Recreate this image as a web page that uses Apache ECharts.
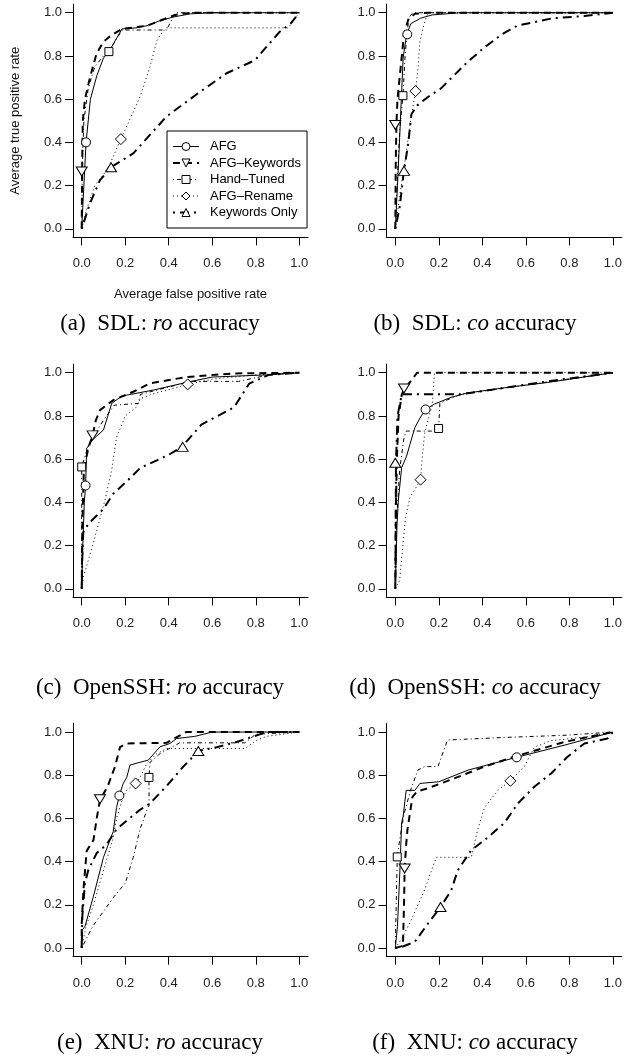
<!DOCTYPE html>
<html>
<head>
<meta charset="utf-8">
<title>ROC curves</title>
<script src="https://cdn.jsdelivr.net/npm/echarts@6/dist/echarts.min.js"></script>
<style>
  html, body { margin: 0; padding: 0; background: #fff; }
  #chart { width: 636px; height: 1057px; }
</style>
</head>
<body>
<div id="chart"></div>
<script>
// axis ticks (both axes)
var ticks = [0, 0.2, 0.4, 0.6, 0.8, 1.0];
var seriesNames = ['AFG', 'AFG\u2013Keywords', 'Hand\u2013Tuned', 'AFG\u2013Rename', 'Keywords Only'];

// (a) SDL ro
var sdlRoAfg = [[0,0],[0.005,0.1],[0.015,0.3],[0.02,0.4],[0.04,0.6],[0.07,0.71],[0.1,0.79],[0.125,0.82],[0.185,0.925],[0.25,0.93],[0.3,0.94],[0.35,0.96],[0.42,0.98],[0.5,0.995],[0.6,1],[1,1]];
var sdlRoKw = [[0,0],[0.002,0.27],[0.005,0.5],[0.015,0.6],[0.038,0.7],[0.068,0.81],[0.1,0.866],[0.138,0.897],[0.185,0.925],[0.3,0.94],[0.43,0.99],[0.5,1],[1,1]];
var sdlRoHand = [[0,0],[0.003,0.3],[0.01,0.5],[0.03,0.65],[0.06,0.75],[0.1,0.8],[0.125,0.82],[0.185,0.92],[0.39,0.92],[0.43,1],[1,1]];
var sdlRoRename = [[0,0],[0.02,0.08],[0.06,0.2],[0.1,0.25],[0.13,0.3],[0.18,0.415],[0.214,0.49],[0.268,0.61],[0.314,0.75],[0.345,0.87],[0.37,0.91],[0.39,0.93],[0.95,0.93],[1,1]];
var sdlRoKwOnly = [[0,0],[0.038,0.117],[0.084,0.225],[0.135,0.285],[0.237,0.349],[0.39,0.52],[0.544,0.634],[0.666,0.72],[0.796,0.78],[0.85,0.843],[0.91,0.912],[0.96,0.95],[1,1]];
var sdlRoMarks = [[0.02,0.4],[0.0,0.265],[0.125,0.82],[0.18,0.415],[0.135,0.285]];

// (b) SDL co
var sdlCoAfg = [[0,0],[0.01,0.2],[0.02,0.42],[0.028,0.61],[0.036,0.79],[0.052,0.9],[0.072,0.95],[0.117,0.975],[0.17,0.99],[0.3,1],[1,1]];
var sdlCoKw = [[0,0],[0.002,0.3],[0.005,0.48],[0.01,0.6],[0.02,0.7],[0.03,0.8],[0.04,0.9],[0.06,0.97],[0.09,0.995],[0.15,1],[1,1]];
var sdlCoHand = [[0,0],[0.008,0.2],[0.02,0.45],[0.035,0.616],[0.045,0.8],[0.055,0.92],[0.065,0.98],[0.08,1],[1,1]];
var sdlCoRename = [[0,0],[0.02,0.15],[0.05,0.35],[0.07,0.5],[0.081,0.565],[0.093,0.637],[0.105,0.75],[0.113,0.87],[0.13,0.94],[0.15,1],[1,1]];
var sdlCoKwOnly = [[0,0],[0.02,0.1],[0.04,0.27],[0.059,0.39],[0.074,0.53],[0.1,0.57],[0.15,0.61],[0.21,0.65],[0.26,0.7],[0.33,0.77],[0.41,0.84],[0.49,0.9],[0.56,0.94],[0.72,0.974],[0.87,0.985],[1,1]];
var sdlCoMarks = [[0.055,0.9],[0.0,0.48],[0.035,0.616],[0.093,0.637],[0.04,0.268]];

// (c) OpenSSH ro
var sshRoAfg = [[0,0],[0.005,0.2],[0.012,0.4],[0.018,0.48],[0.023,0.65],[0.05,0.69],[0.1,0.735],[0.138,0.858],[0.184,0.892],[0.33,0.92],[0.48,0.955],[0.6,0.98],[0.85,0.99],[1,1]];
var sshRoKw = [[0,0],[0.003,0.3],[0.01,0.55],[0.03,0.65],[0.05,0.71],[0.065,0.78],[0.084,0.827],[0.145,0.873],[0.237,0.912],[0.314,0.951],[0.48,0.98],[0.7,0.997],[1,1]];
var sshRoHand = [[0,0],[0,0.564],[0.02,0.63],[0.05,0.7],[0.1,0.78],[0.15,0.85],[0.26,0.858],[0.27,0.9],[0.5,0.96],[0.72,0.96],[0.86,0.99],[1,1]];
var sshRoRename = [[0,0],[0.008,0.054],[0.061,0.24],[0.107,0.41],[0.138,0.55],[0.16,0.7],[0.2,0.8],[0.25,0.84],[0.27,0.88],[0.32,0.9],[0.487,0.946],[0.6,0.97],[0.8,0.99],[1,1]];
var sshRoKwOnly = [[0,0],[0.003,0.15],[0.007,0.26],[0.03,0.3],[0.1,0.37],[0.145,0.44],[0.21,0.5],[0.27,0.56],[0.4,0.62],[0.46,0.657],[0.55,0.76],[0.7,0.84],[0.77,0.95],[0.86,0.99],[1,1]];
var sshRoMarks = [[0.018,0.478],[0.05,0.71],[0,0.564],[0.487,0.946],[0.464,0.657]];

// (d) OpenSSH co
var sshCoAfg = [[0,0],[0.008,0.3],[0.014,0.41],[0.029,0.56],[0.052,0.614],[0.067,0.668],[0.09,0.746],[0.113,0.79],[0.139,0.83],[0.18,0.855],[0.256,0.886],[0.33,0.906],[0.5,0.93],[0.7,0.955],[1,1]];
var sshCoKw = [[0,0],[0.003,0.4],[0.008,0.62],[0.015,0.8],[0.03,0.9],[0.04,0.92],[0.1,1],[1,1]];
var sshCoHand = [[0,0],[0.005,0.3],[0.02,0.55],[0.04,0.7],[0.05,0.73],[0.18,0.73],[0.199,0.742],[0.205,0.86],[0.3,0.9],[1,1]];
var sshCoRename = [[0,0],[0.02,0.04],[0.03,0.15],[0.046,0.32],[0.066,0.42],[0.096,0.47],[0.116,0.505],[0.124,0.61],[0.135,0.72],[0.15,0.78],[0.17,0.85],[0.18,1],[1,1]];
var sshCoKwOnly = [[0,0],[0.002,0.3],[0.003,0.58],[0.01,0.8],[0.03,0.9],[0.3,0.9],[0.5,0.93],[0.7,0.96],[1,1]];
var sshCoMarks = [[0.139,0.83],[0.04,0.927],[0.199,0.742],[0.116,0.505],[0,0.583]];

// (e) XNU ro
var xnuRoAfg = [[0,0],[0,0.08],[0.015,0.1],[0.054,0.24],[0.1,0.42],[0.145,0.54],[0.16,0.65],[0.173,0.706],[0.19,0.76],[0.207,0.79],[0.222,0.847],[0.268,0.86],[0.306,0.87],[0.36,0.932],[0.406,0.947],[0.436,0.97],[0.52,0.98],[0.6,1],[1,1]];
var xnuRoKw = [[0,0],[0,0.11],[0.008,0.27],[0.023,0.45],[0.054,0.5],[0.069,0.6],[0.084,0.685],[0.12,0.75],[0.153,0.84],[0.176,0.93],[0.207,0.947],[0.39,0.95],[0.48,1],[1,1]];
var xnuRoHand = [[0,0],[0.05,0.1],[0.1,0.17],[0.15,0.24],[0.2,0.3],[0.237,0.42],[0.268,0.55],[0.3,0.64],[0.31,0.66],[0.309,0.79],[0.314,0.86],[0.36,0.9],[0.45,0.95],[0.75,0.95],[0.8,0.99],[1,1]];
var xnuRoRename = [[0,0],[0.02,0.1],[0.054,0.2],[0.1,0.36],[0.145,0.51],[0.16,0.6],[0.19,0.7],[0.207,0.73],[0.248,0.762],[0.268,0.79],[0.3,0.855],[0.345,0.9],[0.39,0.924],[0.75,0.924],[0.8,0.96],[0.85,0.98],[1,1]];
var xnuRoKwOnly = [[0,0],[0.003,0.15],[0.015,0.3],[0.03,0.36],[0.069,0.44],[0.115,0.48],[0.16,0.55],[0.207,0.59],[0.268,0.64],[0.314,0.67],[0.39,0.75],[0.467,0.84],[0.536,0.912],[0.62,0.93],[0.7,0.95],[0.79,0.98],[0.85,1],[1,1]];
var xnuRoMarks = [[0.173,0.706],[0.084,0.689],[0.309,0.79],[0.248,0.762],[0.536,0.912]];

// (f) XNU co
var xnuCoAfg = [[0,0],[0.01,0.1],[0.022,0.38],[0.029,0.58],[0.036,0.61],[0.05,0.73],[0.09,0.73],[0.113,0.762],[0.2,0.77],[0.335,0.824],[0.557,0.883],[0.78,0.94],[1,1]];
var xnuCoKw = [[0,0],[0.035,0.01],[0.04,0.2],[0.043,0.37],[0.05,0.48],[0.056,0.55],[0.079,0.7],[0.1,0.725],[0.15,0.74],[0.257,0.78],[0.41,0.84],[0.56,0.89],[0.78,0.955],[1,1]];
var xnuCoHand = [[0,0],[0.004,0.2],[0.009,0.42],[0.02,0.5],[0.04,0.62],[0.07,0.73],[0.104,0.824],[0.135,0.84],[0.196,0.84],[0.24,0.963],[0.5,0.975],[0.78,0.985],[1,1]];
var xnuCoRename = [[0,0],[0.028,0.04],[0.073,0.13],[0.135,0.27],[0.188,0.42],[0.349,0.42],[0.379,0.55],[0.41,0.65],[0.471,0.73],[0.529,0.774],[0.593,0.84],[0.639,0.93],[0.716,0.96],[0.9,0.98],[1,1]];
var xnuCoKwOnly = [[0,0],[0.028,0.005],[0.089,0.028],[0.15,0.113],[0.208,0.19],[0.257,0.267],[0.287,0.36],[0.349,0.453],[0.41,0.5],[0.5,0.577],[0.563,0.669],[0.639,0.747],[0.716,0.808],[0.792,0.886],[0.869,0.947],[0.975,0.97],[1,1]];
var xnuCoMarks = [[0.558,0.883],[0.043,0.368],[0.009,0.422],[0.529,0.774],[0.208,0.19]];

var panels = [
  { tag: '(a)', sys: 'SDL', kind: 'ro', lines: [sdlRoAfg, sdlRoKw, sdlRoHand, sdlRoRename, sdlRoKwOnly], marks: sdlRoMarks },
  { tag: '(b)', sys: 'SDL', kind: 'co', lines: [sdlCoAfg, sdlCoKw, sdlCoHand, sdlCoRename, sdlCoKwOnly], marks: sdlCoMarks },
  { tag: '(c)', sys: 'OpenSSH', kind: 'ro', lines: [sshRoAfg, sshRoKw, sshRoHand, sshRoRename, sshRoKwOnly], marks: sshRoMarks },
  { tag: '(d)', sys: 'OpenSSH', kind: 'co', lines: [sshCoAfg, sshCoKw, sshCoHand, sshCoRename, sshCoKwOnly], marks: sshCoMarks },
  { tag: '(e)', sys: 'XNU', kind: 'ro', lines: [xnuRoAfg, xnuRoKw, xnuRoHand, xnuRoRename, xnuRoKwOnly], marks: xnuRoMarks },
  { tag: '(f)', sys: 'XNU', kind: 'co', lines: [xnuCoAfg, xnuCoKw, xnuCoHand, xnuCoRename, xnuCoKwOnly], marks: xnuCoMarks }
];

// look of each method (R style: lty 1, 2, 4, 3, 4 thick)
var looks = [
  { symbol: 'circle', size: 9, rotate: 0, width: 1, type: 'solid' },
  { symbol: 'triangle', size: [11, 9], rotate: 180, width: 2, type: [7, 5] },
  { symbol: 'rect', size: 8, rotate: 0, width: 1, type: [1, 3, 4, 3] },
  { symbol: 'diamond', size: 11, rotate: 0, width: 1, type: [1, 3] },
  { symbol: 'triangle', size: [11, 9], rotate: 0, width: 2, type: [2, 5, 9, 5] }
];

var font = 'Liberation Sans, Arial, sans-serif';
var serif = 'Liberation Serif, Times New Roman, serif';
var colX = [73, 386.6];        // grid left of each column
var rowY = [4.1, 364.1, 723.4]; // grid top of each row
var gridW = 235, gridH = 233.3;
var capX = [160, 475];
var capY = [324, 688, 1043];

var grids = [], xAxes = [], yAxes = [], series = [], graphics = [];

panels.forEach(function (p, i) {
  var col = i % 2, row = Math.floor(i / 2);
  grids.push({ left: colX[col], top: rowY[row], width: gridW, height: gridH });
  var axisCommon = {
    gridIndex: i, type: 'value', min: -0.04, max: 1.04,
    axisLine: { show: true, onZero: false, lineStyle: { color: '#000', width: 1 } },
    axisTick: { show: true, length: 8, customValues: ticks, lineStyle: { color: '#000', width: 1 } },
    splitLine: { show: false },
    nameTextStyle: { fontSize: 13, fontFamily: font, color: '#111' }
  };
  xAxes.push(Object.assign({}, axisCommon, {
    axisLabel: { customValues: ticks, formatter: function (v) { return v.toFixed(1); }, margin: 20, fontSize: 13, fontFamily: font, color: '#222' },
    name: i === 0 ? 'Average false positive rate' : '',
    nameLocation: 'middle', nameGap: 51
  }));
  yAxes.push(Object.assign({}, axisCommon, {
    axisLabel: { customValues: ticks, formatter: function (v) { return v.toFixed(1); }, margin: 11, fontSize: 13, fontFamily: font, color: '#222' },
    name: i === 0 ? 'Average true positive rate' : '',
    nameLocation: 'middle', nameGap: 51, nameRotate: 90
  }));

  p.lines.forEach(function (d, k) {
    var lk = looks[k];
    series.push({
      name: seriesNames[k], type: 'line', xAxisIndex: i, yAxisIndex: i,
      data: d, showSymbol: false, symbol: lk.symbol, symbolSize: lk.size, symbolRotate: lk.rotate,
      itemStyle: { color: '#fff', borderColor: '#000', borderWidth: 1 },
      lineStyle: { color: '#000', width: lk.width, type: lk.type },
      silent: true, z: 2
    });
  });
  p.marks.forEach(function (m, k) {
    var lk = looks[k];
    series.push({
      name: seriesNames[k] + ' mark', type: 'scatter', xAxisIndex: i, yAxisIndex: i,
      data: [m], symbol: lk.symbol, symbolSize: lk.size, symbolRotate: lk.rotate,
      itemStyle: { color: '#fff', borderColor: '#000', borderWidth: 1, opacity: 1 },
      silent: true, z: 4
    });
  });

  graphics.push({
    type: 'text', x: capX[col], y: capY[row], silent: true,
    style: {
      text: '{n|' + p.tag + '  ' + p.sys + ': }{i|' + p.kind + '}{n| accuracy}',
      align: 'center', verticalAlign: 'middle',
      rich: {
        n: { fontFamily: serif, fontSize: 23, fill: '#000' },
        i: { fontFamily: serif, fontSize: 23, fontStyle: 'italic', fill: '#000' }
      }
    }
  });
});

var chart = echarts.init(document.getElementById('chart'), null, { renderer: 'canvas' });
chart.setOption({
  animation: false,
  backgroundColor: '#fff',
  grid: grids,
  xAxis: xAxes,
  yAxis: yAxes,
  legend: {
    data: seriesNames, orient: 'vertical', left: 167, top: 131,
    selectedMode: false,
    backgroundColor: '#fff', borderColor: '#000', borderWidth: 1, borderRadius: 0,
    padding: [9, 6, 9, 5], itemGap: 3.5, itemWidth: 26, itemHeight: 10,
    itemStyle: { borderWidth: 1 },
    lineStyle: { width: 'inherit' },
    textStyle: { fontSize: 13, fontFamily: font, color: '#000', padding: [0, 0, 0, 6] }
  },
  graphic: graphics,
  series: series
});
</script>
</body>
</html>
